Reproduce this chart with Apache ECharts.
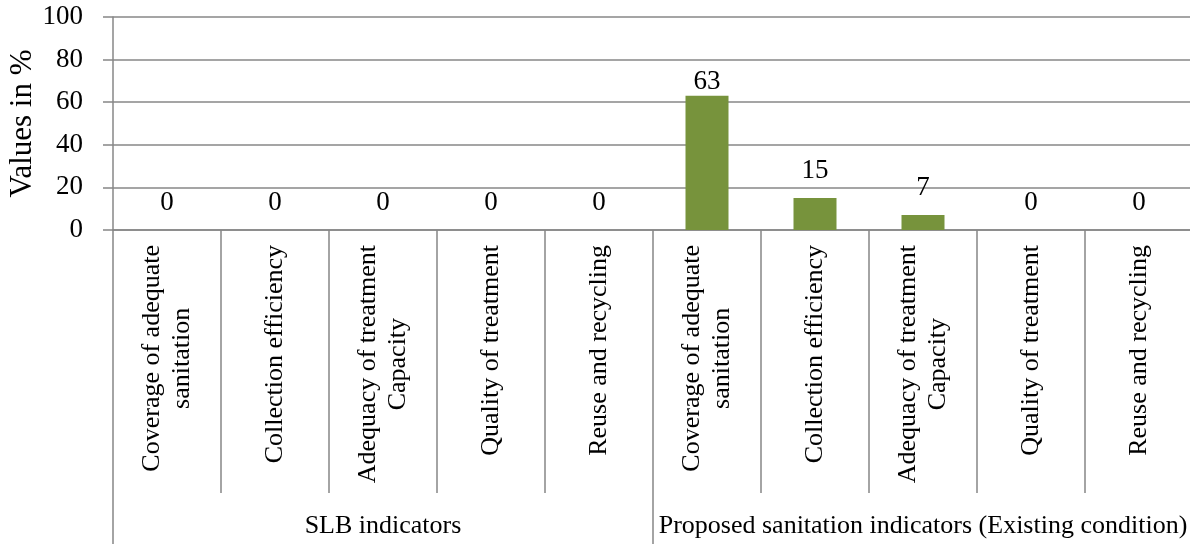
<!DOCTYPE html>
<html>
<head>
<meta charset="utf-8">
<script src="https://cdn.jsdelivr.net/npm/echarts@6/dist/echarts.min.js"></script>
<style>
  html, body { margin: 0; padding: 0; background: #fff; }
  #chart { width: 1190px; height: 544px; }
</style>
</head>
<body>
<div id="chart"></div>
<script>
// Indicator labels (two lines where the text wraps)
const categories = [
  'Coverage of adequate\nsanitation',
  'Collection efficiency',
  'Adequacy of treatment\nCapacity',
  'Quality of treatment',
  'Reuse and recycling',
  'Coverage of adequate\nsanitation',
  'Collection efficiency',
  'Adequacy of treatment\nCapacity',
  'Quality of treatment',
  'Reuse and recycling'
];
// Indicator values in percent
const values = [0, 0, 0, 0, 0, 63, 15, 7, 0, 0];
// Group captions under the indicators
const groups = ['SLB indicators', 'Proposed sanitation indicators (Existing condition)'];
const yTicks = { min: 0, max: 100, interval: 20 };

const FONT = 'Liberation Serif';
const GRAY = '#878787';
const GREEN = '#77933C';

const chart = echarts.init(document.getElementById('chart'), null, { renderer: 'canvas' });

chart.setOption({
  animation: false,
  backgroundColor: '#ffffff',
  textStyle: { fontFamily: FONT, color: '#000' },
  grid: {
    left: 113, top: 17, width: 1080, height: 213,
    containLabel: false,
    outerBoundsMode: 'none'
  },
  xAxis: [
    {
      type: 'category',
      data: categories,
      position: 'bottom',
      axisLine: { show: true, lineStyle: { color: GRAY, width: 1.5 } },
      axisTick: { show: true, length: 263, lineStyle: { color: GRAY, width: 1.5 } },
      axisLabel: {
        interval: 0,
        rotate: 90,
        align: 'right',
        verticalAlign: 'middle',
        margin: 15,
        // each wrapped line is centred within the label block
        formatter: function (v) {
          return v.split('\n').map(function (s) { return '{c|' + s + '}'; }).join('\n');
        },
        rich: {
          c: { align: 'center', fontFamily: FONT, fontSize: 26, lineHeight: 30, color: '#000' }
        },
        fontFamily: FONT,
        fontSize: 26,
        lineHeight: 30,
        color: '#000'
      }
    },
    {
      type: 'category',
      data: groups,
      position: 'bottom',
      axisLine: { show: false },
      axisTick: { show: true, length: 314, lineStyle: { color: GRAY, width: 1.5 } },
      axisLabel: {
        interval: 0,
        margin: 283,
        fontFamily: FONT,
        fontSize: 26,
        color: '#000'
      }
    }
  ],
  yAxis: {
    type: 'value',
    min: yTicks.min,
    max: yTicks.max,
    interval: yTicks.interval,
    name: 'Values in %',
    nameLocation: 'middle',
    nameGap: 75,
    nameMoveOverlap: false,
    nameTextStyle: { fontFamily: FONT, fontSize: 31, color: '#000' },
    axisLine: { show: true, lineStyle: { color: GRAY, width: 1.5 } },
    axisTick: { show: true, length: 10, lineStyle: { color: GRAY, width: 1.5 } },
    axisLabel: { margin: 30, fontFamily: FONT, fontSize: 27, color: '#000' },
    splitLine: { show: true, lineStyle: { color: GRAY, width: 1.5 } }
  },
  series: [
    {
      type: 'bar',
      xAxisIndex: 0,
      barWidth: 43,
      itemStyle: { color: GREEN },
      label: {
        show: true,
        position: 'top',
        distance: 14,
        fontFamily: FONT,
        fontSize: 27,
        color: '#000'
      },
      data: values.map(function (v) {
        return v >= 50 ? { value: v, label: { distance: 0 } } : v;
      })
    }
  ]
});
</script>
</body>
</html>
